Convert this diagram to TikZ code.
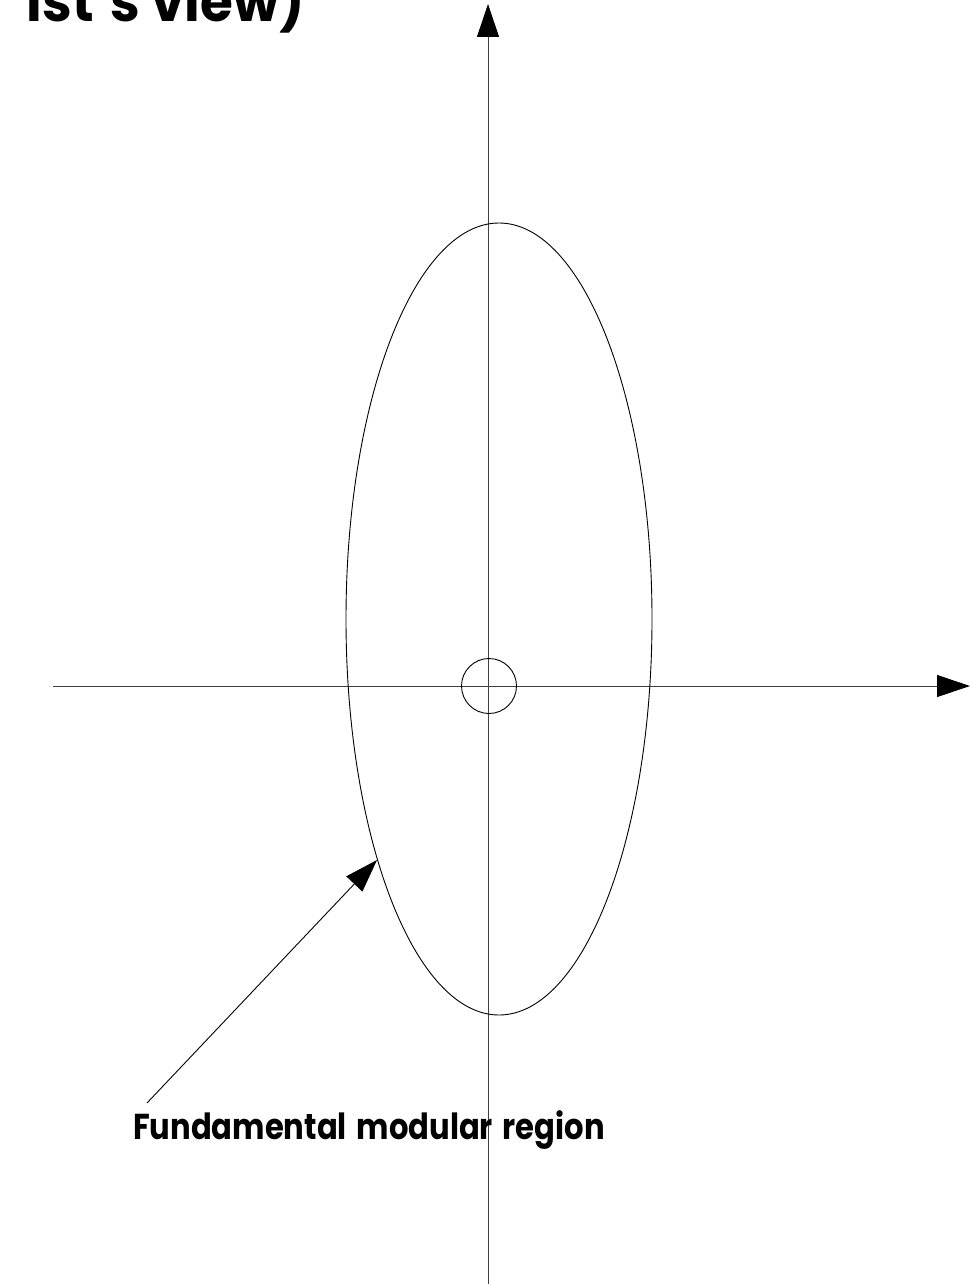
\documentclass[tikz,border=0pt]{standalone}
\usepackage{fontspec}
\setmainfont{Poppins}
\usetikzlibrary{arrows.meta,shapes.geometric}
\tikzset{
  tip/.tip={Triangle[length=33pt,width=22pt,color=black,fill=black]},
  ax/.style={line width=1pt, draw=black!75, -tip},
  thin line/.style={line width=0.9pt, draw=black},
  lbl/.style={inner sep=0pt, font=\bfseries\fontsize{36}{42}\selectfont, anchor=base west},
}
\begin{document}
\begin{tikzpicture}[x=1pt,y=-1pt]
\useasboundingbox (0,0) rectangle (974,1284);
\clip (0,0) rectangle (974,1284);
% axes
\coordinate (ybot) at (488,1284);
\coordinate (ytop) at (488,4);
\coordinate (xl) at (53,686);
\coordinate (xr) at (970,686);
\draw[ax] (ybot) -- (ytop);
\draw[ax] (xl) -- (xr);
% small circle
\node[thin line, circle, minimum size=55pt, inner sep=0pt] (origin) at (489,686) {};
% ellipse
\node[thin line, ellipse, minimum width=306pt, minimum height=792pt, inner sep=0pt] (ell) at (499,619) {};
% labels
\node[lbl] (region) at (133,1139) {\scalebox{0.85}[1]{Fundamental\hspace{4pt} modular\hspace{4pt} region}};
\node[lbl, anchor=base east, font=\bfseries\fontsize{56}{62}\selectfont] (title) at (305,22) {\scalebox{0.95}[1]{ist's view)}};
% pointer
\coordinate (pstart) at (147,1103);
\coordinate (ptip) at (377,860);
\draw[thin line, -tip] (pstart) -- (ptip);
\end{tikzpicture}
\end{document}
